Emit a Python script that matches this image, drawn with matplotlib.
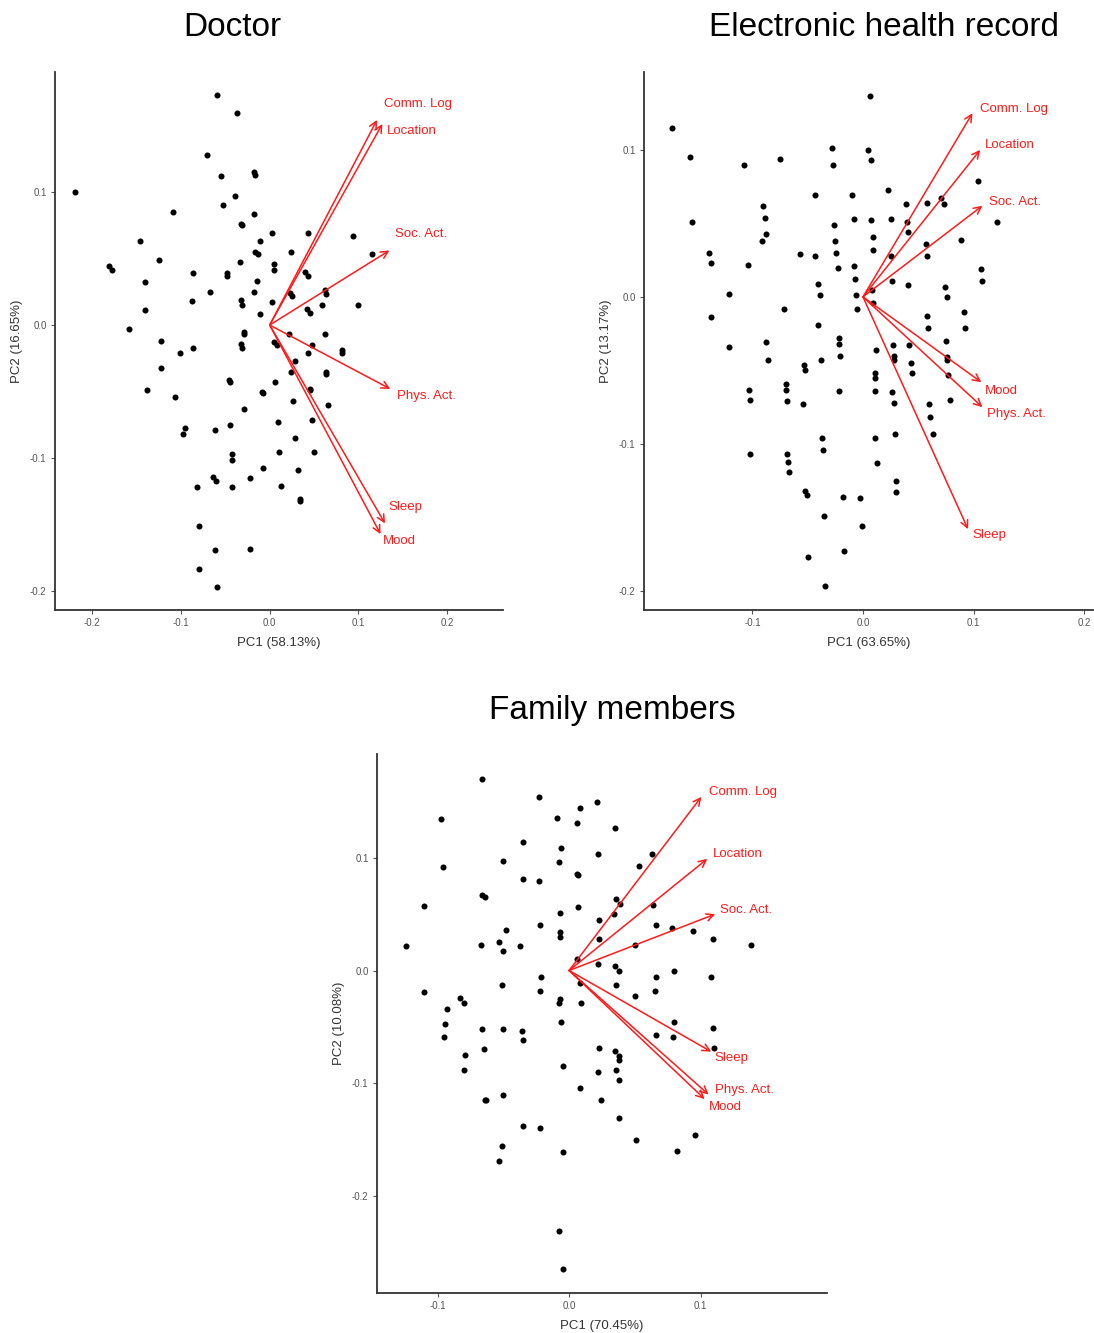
import numpy as np
import matplotlib
matplotlib.use("Agg")
from matplotlib import pyplot as plt

plt.rcParams['font.family'] = ['Liberation Sans', 'DejaVu Sans']

var_names = ["Comm. Log", "Location", "Soc. Act.", "Phys. Act.", "Sleep", "Mood"]

# ---- Doctor ----
doctor_scores = [
    (-0.220, 0.100), (-0.059, 0.173), (-0.037, 0.159), (-0.071, 0.128), (-0.055, 0.112),
    (-0.018, 0.115), (-0.016, 0.113), (-0.039, 0.097), (-0.053, 0.090), (-0.109, 0.085),
    (-0.018, 0.083), (-0.032, 0.076), (-0.031, 0.075), (0.003, 0.069), (0.043, 0.069),
    (0.094, 0.067), (-0.011, 0.063), (-0.146, 0.063), (-0.016, 0.055), (-0.013, 0.053),
    (0.024, 0.055), (0.115, 0.053), (-0.125, 0.049), (-0.034, 0.047), (-0.181, 0.044),
    (-0.178, 0.041), (0.005, 0.046), (0.005, 0.041), (-0.087, 0.039), (-0.048, 0.039),
    (-0.048, 0.037), (0.040, 0.040), (0.043, 0.037), (-0.140, 0.032), (-0.014, 0.033),
    (-0.067, 0.025), (-0.018, 0.025), (0.023, 0.024), (0.025, 0.022), (0.062, 0.026),
    (0.064, 0.023), (-0.088, 0.018), (-0.032, 0.019), (-0.031, 0.015), (0.003, 0.017),
    (0.099, 0.015), (0.059, 0.015), (-0.141, 0.011), (0.042, 0.012), (0.045, 0.009),
    (-0.011, 0.008), (-0.159, -0.003), (-0.029, -0.005), (-0.029, -0.007), (0.022, -0.007),
    (0.062, -0.007), (-0.122, -0.012), (0.005, -0.013), (0.008, -0.015), (0.048, -0.015),
    (-0.032, -0.014), (-0.031, -0.017), (-0.087, -0.017), (-0.101, -0.021), (0.043, -0.021),
    (0.082, -0.019), (0.082, -0.021), (-0.122, -0.032), (-0.138, -0.049), (-0.107, -0.054),
    (-0.046, -0.041), (-0.045, -0.043), (0.006, -0.043), (-0.009, -0.050), (-0.007, -0.051),
    (0.028, -0.027), (0.024, -0.035), (0.064, -0.035), (0.064, -0.037), (0.045, -0.048),
    (0.045, -0.049), (0.026, -0.057), (0.066, -0.060), (-0.029, -0.063), (0.048, -0.071),
    (0.009, -0.073), (-0.045, -0.075), (-0.062, -0.079), (-0.096, -0.077), (-0.098, -0.082),
    (0.029, -0.085), (0.011, -0.095), (0.050, -0.095), (-0.043, -0.097), (-0.043, -0.101),
    (-0.008, -0.107), (0.032, -0.109), (-0.064, -0.114), (-0.061, -0.117), (-0.022, -0.115),
    (-0.082, -0.122), (-0.043, -0.122), (0.013, -0.121), (0.034, -0.131), (0.034, -0.132),
    (-0.080, -0.151), (-0.062, -0.169), (-0.022, -0.168), (-0.080, -0.183), (-0.059, -0.197),
]
doctor_arrows = [(0.121, 0.154), (0.127, 0.151), (0.135, 0.056), (0.136, -0.048), (0.130, -0.149), (0.125, -0.157)]
doctor_labels = [(0.129, 0.166), (0.1325, 0.146), (0.1416, 0.068), (0.143, -0.053), (0.134, -0.1365), (0.128, -0.162)]

# ---- Electronic health record ----
ehr_scores = [
    (-0.173, 0.115), (0.006, 0.137), (-0.156, 0.095), (-0.108, 0.090), (-0.075, 0.094),
    (-0.028, 0.101), (-0.027, 0.090), (0.005, 0.100), (0.007, 0.093), (-0.155, 0.051),
    (-0.043, 0.069), (-0.010, 0.069), (0.023, 0.073), (0.104, 0.079), (-0.090, 0.062),
    (-0.089, 0.054), (-0.088, 0.043), (-0.091, 0.038), (-0.026, 0.049), (-0.008, 0.053),
    (0.007, 0.052), (0.025, 0.053), (0.039, 0.063), (0.058, 0.064), (0.071, 0.067),
    (0.073, 0.063), (0.040, 0.051), (0.041, 0.044), (0.009, 0.041), (0.121, 0.051),
    (0.089, 0.039), (-0.025, 0.038), (0.009, 0.032), (-0.139, 0.030), (-0.137, 0.023),
    (-0.104, 0.022), (-0.057, 0.029), (-0.043, 0.028), (-0.024, 0.030), (0.025, 0.028),
    (0.057, 0.036), (0.058, 0.028), (-0.023, 0.020), (-0.008, 0.021), (0.107, 0.019),
    (0.108, 0.011), (-0.007, 0.012), (0.026, 0.011), (0.041, 0.008), (0.074, 0.007),
    (0.076, 0.000), (-0.041, 0.009), (-0.039, 0.001), (-0.006, 0.001), (0.008, 0.005),
    (0.009, -0.004), (-0.121, 0.002), (-0.071, -0.008), (-0.005, -0.008), (-0.137, -0.014),
    (0.091, -0.010), (0.058, -0.013), (0.059, -0.021), (0.092, -0.021), (-0.041, -0.019),
    (-0.022, -0.028), (-0.022, -0.032), (0.075, -0.030), (-0.121, -0.034), (-0.088, -0.031),
    (0.027, -0.033), (0.042, -0.033), (0.012, -0.036), (-0.021, -0.040), (0.028, -0.040),
    (0.028, -0.043), (-0.086, -0.043), (-0.038, -0.043), (0.043, -0.045), (0.044, -0.052),
    (0.076, -0.041), (0.076, -0.043), (0.077, -0.053), (0.079, -0.070), (-0.053, -0.046),
    (-0.052, -0.050), (0.011, -0.052), (0.011, -0.055), (-0.103, -0.063), (-0.102, -0.070),
    (-0.070, -0.059), (-0.070, -0.063), (-0.069, -0.071), (-0.054, -0.073), (-0.022, -0.064),
    (0.011, -0.064), (0.026, -0.065), (0.028, -0.072), (0.060, -0.073), (0.061, -0.082),
    (0.063, -0.093), (0.029, -0.093), (0.011, -0.096), (-0.037, -0.096), (-0.036, -0.104),
    (-0.102, -0.107), (-0.069, -0.107), (-0.068, -0.112), (-0.067, -0.119), (0.013, -0.113),
    (0.030, -0.125), (0.030, -0.133), (-0.052, -0.132), (-0.051, -0.135), (-0.018, -0.136),
    (-0.003, -0.137), (-0.035, -0.149), (-0.001, -0.156), (-0.017, -0.173), (-0.050, -0.177),
    (-0.034, -0.197),
]
ehr_names = ["Comm. Log", "Location", "Soc. Act.", "Mood", "Phys. Act.", "Sleep"]
ehr_arrows = [(0.099, 0.125), (0.106, 0.100), (0.108, 0.062), (0.107, -0.058), (0.108, -0.075), (0.095, -0.158)]
ehr_labels = [(0.106, 0.128), (0.1105, 0.103), (0.114, 0.0645), (0.110, -0.064), (0.1126, -0.080), (0.0987, -0.162)]

# ---- Family members ----
family_scores = [
    (-0.066, 0.170), (-0.023, 0.154), (0.021, 0.149), (0.008, 0.144), (-0.097, 0.134),
    (-0.009, 0.135), (0.006, 0.131), (0.035, 0.126), (-0.035, 0.114), (-0.006, 0.109),
    (0.022, 0.103), (0.063, 0.103), (-0.096, 0.092), (-0.050, 0.097), (-0.008, 0.096),
    (0.053, 0.093), (0.006, 0.086), (0.007, 0.085), (-0.035, 0.081), (-0.023, 0.079),
    (-0.066, 0.067), (-0.064, 0.065), (0.036, 0.063), (0.039, 0.059), (-0.110, 0.057),
    (0.007, 0.056), (0.064, 0.058), (-0.007, 0.051), (0.034, 0.050), (0.023, 0.045),
    (0.066, 0.040), (0.078, 0.038), (0.094, 0.035), (-0.022, 0.040), (-0.048, 0.036),
    (-0.007, 0.034), (-0.007, 0.030), (0.023, 0.028), (0.109, 0.028), (0.138, 0.023),
    (-0.124, 0.022), (-0.067, 0.023), (-0.053, 0.025), (-0.050, 0.017), (-0.037, 0.022),
    (0.050, 0.023), (0.006, 0.010), (0.022, 0.006), (0.035, 0.004), (0.038, 0.000),
    (0.080, 0.000), (-0.021, -0.006), (0.066, -0.006), (0.108, -0.006), (0.008, -0.011),
    (0.036, -0.013), (-0.051, -0.013), (-0.110, -0.019), (-0.022, -0.018), (0.065, -0.018),
    (0.050, -0.023), (-0.083, -0.024), (-0.080, -0.029), (-0.007, -0.025), (-0.008, -0.029),
    (0.009, -0.029), (-0.093, -0.034), (-0.094, -0.047), (-0.006, -0.046), (0.080, -0.046),
    (0.109, -0.051), (-0.095, -0.059), (-0.066, -0.052), (-0.050, -0.052), (-0.036, -0.054),
    (-0.035, -0.062), (0.066, -0.057), (0.079, -0.059), (0.110, -0.069), (-0.079, -0.075),
    (-0.080, -0.088), (-0.065, -0.070), (0.023, -0.069), (0.035, -0.071), (0.038, -0.076),
    (0.038, -0.079), (-0.005, -0.085), (0.022, -0.090), (0.036, -0.088), (0.038, -0.097),
    (0.008, -0.104), (-0.050, -0.110), (-0.064, -0.115), (-0.063, -0.115), (0.024, -0.115),
    (0.038, -0.131), (-0.035, -0.138), (-0.022, -0.140), (0.096, -0.146), (0.051, -0.150),
    (-0.051, -0.156), (-0.005, -0.161), (0.082, -0.160), (-0.053, -0.169), (-0.008, -0.231),
    (-0.005, -0.265),
]
family_names = ["Comm. Log", "Location", "Soc. Act.", "Sleep", "Phys. Act.", "Mood"]
family_arrows = [(0.1005, 0.154), (0.105, 0.099), (0.111, 0.050), (0.108, -0.072), (0.106, -0.110), (0.103, -0.114)]
family_labels = [(0.106, 0.158), (0.109, 0.103), (0.115, 0.0535), (0.1106, -0.078), (0.111, -0.106), (0.106, -0.121)]

W, H = 1094, 1333
fig = plt.figure(figsize=(W / 100, H / 100), dpi=100)


def px_axes(left, top, right, bottom):
    return fig.add_axes([left / W, 1 - bottom / H, (right - left) / W, (bottom - top) / H])


def biplot(ax, scores, names, arrows, labels, xlim, ylim, xticks, xlab, ylab):
    s = np.array(scores)
    ax.scatter(s[:, 0], s[:, 1], s=19, color='black', linewidths=0, zorder=2)
    for name, tip, lab in zip(names, arrows, labels):
        ax.annotate('', xy=tip, xytext=(0, 0),
                    arrowprops=dict(arrowstyle='->', color='#ff1a1a', lw=1.1,
                                    mutation_scale=13, shrinkA=0, shrinkB=0), zorder=3)
        ax.text(lab[0], lab[1], name, color='#ff1a1a', fontsize=9.5, ha='left', va='center')
    ax.set_xlim(*xlim)
    ax.set_ylim(*ylim)
    ax.set_xticks(xticks)
    ax.set_xticklabels(['%.1f' % t for t in xticks])
    yt = [-0.2, -0.1, 0.0, 0.1]
    ax.set_yticks(yt)
    ax.set_yticklabels(['%.1f' % t for t in yt])
    for sp in ['top', 'right']:
        ax.spines[sp].set_visible(False)
    for sp in ['left', 'bottom']:
        ax.spines[sp].set_linewidth(1.3)
        ax.spines[sp].set_color('#333333')
    ax.tick_params(labelsize=7, colors='#555555', length=3, width=0.8, pad=3)
    ax.set_xlabel(xlab, fontsize=9.5, color='#333333', labelpad=6)
    ax.set_ylabel(ylab, fontsize=9.5, color='#333333', labelpad=5)


ax1 = px_axes(55, 72, 503, 610)
biplot(ax1, doctor_scores, var_names, doctor_arrows, doctor_labels,
       (-0.242, 0.263), (-0.214, 0.190), [-0.2, -0.1, 0.0, 0.1, 0.2],
       'PC1 (58.13%)', 'PC2 (16.65%)')

ax2 = px_axes(644, 72, 1093, 610)
biplot(ax2, ehr_scores, ehr_names, ehr_arrows, ehr_labels,
       (-0.198, 0.208), (-0.213, 0.153), [-0.1, 0.0, 0.1, 0.2],
       'PC1 (63.65%)', 'PC2 (13.17%)')

ax3 = px_axes(377, 754, 827, 1293)
biplot(ax3, family_scores, family_names, family_arrows, family_labels,
       (-0.146, 0.196), (-0.286, 0.192), [-0.1, 0.0, 0.1],
       'PC1 (70.45%)', 'PC2 (10.08%)')

fig.text(232 / W, 1 - 28 / H, 'Doctor', fontsize=24, ha='center', va='center')
fig.text(884 / W, 1 - 28 / H, 'Electronic health record', fontsize=24, ha='center', va='center')
fig.text(612 / W, 1 - 710 / H, 'Family members', fontsize=24, ha='center', va='center')

fig.savefig('out.png', dpi=100)
